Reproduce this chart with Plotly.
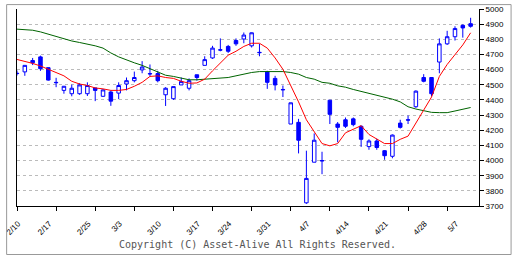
import plotly.graph_objects as go

# Trading days shown (2025)
dates = ["2/10", "2/12", "2/13", "2/14",
         "2/17", "2/18", "2/19", "2/20", "2/21",
         "2/25", "2/26", "2/27", "2/28",
         "3/3", "3/4", "3/5", "3/6", "3/7",
         "3/10", "3/11", "3/12", "3/13", "3/14",
         "3/17", "3/18", "3/19", "3/21",
         "3/24", "3/25", "3/26", "3/27", "3/28",
         "3/31", "4/1", "4/2", "4/3", "4/4",
         "4/7", "4/8", "4/9", "4/10", "4/11",
         "4/14", "4/15", "4/16", "4/17", "4/18",
         "4/21", "4/22", "4/23", "4/24", "4/25",
         "4/28", "4/30", "5/1", "5/2",
         "5/7", "5/8", "5/9"]

open_ = [4576, 4585, 4660, 4684, 4613, 4516, 4463, 4441, 4441, 4441,
         4479, 4424, 4452, 4445, 4505, 4527, 4598, 4574, 4574, 4434,
         4408, 4499, 4477, 4566, 4628, 4677, 4731, 4753, 4792, 4802,
         4757, 4714, 4585, 4542, 4469, 4241, 4252, 3721, 3989, 4000,
         4398, 4241, 4269, 4275, 4226, 4092, 4129, 4065, 4028, 4247,
         4269, 4355, 4548, 4548, 4650, 4770, 4817, 4892, 4903]
high = [4594, 4628, 4677, 4692, 4615, 4546, 4492, 4501, 4510, 4516,
        4480, 4470, 4463, 4516, 4548, 4587, 4656, 4634, 4592, 4484,
        4488, 4548, 4542, 4566, 4688, 4757, 4806, 4763, 4806, 4845,
        4845, 4770, 4592, 4559, 4495, 4381, 4275, 4065, 4179, 4058,
        4398, 4254, 4284, 4284, 4232, 4140, 4144, 4069, 4172, 4269,
        4297, 4463, 4570, 4548, 4806, 4856, 4886, 4899, 4942]
low = [4561, 4559, 4630, 4592, 4527, 4484, 4441, 4424, 4434, 4426,
       4392, 4420, 4361, 4405, 4463, 4516, 4576, 4555, 4516, 4360,
       4400, 4499, 4463, 4527, 4628, 4671, 4721, 4710, 4757, 4774,
       4746, 4688, 4473, 4463, 4419, 4241, 4047, 3714, 3989, 3910,
       4241, 4120, 4215, 4226, 4090, 4071, 4071, 4005, 4015, 4211,
       4241, 4348, 4516, 4424, 4576, 4763, 4792, 4811, 4877]
close = [4574, 4628, 4645, 4606, 4531, 4514, 4490, 4477, 4499, 4495,
         4463, 4466, 4392, 4495, 4527, 4548, 4617, 4572, 4527, 4477,
         4488, 4521, 4527, 4548, 4666, 4742, 4729, 4721, 4770, 4828,
         4843, 4712, 4516, 4499, 4467, 4381, 4134, 3882, 4134, 3998,
         4305, 4219, 4226, 4237, 4140, 4129, 4086, 4032, 4168, 4219,
         4267, 4458, 4523, 4441, 4770, 4817, 4871, 4875, 4886]

# Short moving average (red)
ma_short = [4667, 4656, 4641, 4624, 4602, 4585, 4559, 4523, 4505, 4495,
            4479, 4473, 4463, 4463, 4469, 4490, 4516, 4555, 4559, 4548,
            4542, 4523, 4510, 4512, 4537, 4592, 4645, 4695, 4721, 4753,
            4774, 4774, 4742, 4677, 4602, 4495, 4387, 4269, 4194, 4112,
            4097, 4112, 4183, 4204, 4230, 4172, 4140, 4112, 4112, 4140,
            4161, 4247, 4335, 4419, 4555, 4634, 4699, 4763, 4843]
# Long moving average (green)
ma_long = [4867, 4865, 4860, 4849, 4834, 4817, 4800, 4789, 4779, 4770,
           4757, 4742, 4710, 4684, 4662, 4645, 4628, 4606, 4585, 4563,
           4555, 4542, 4533, 4533, 4537, 4542, 4542, 4548, 4559, 4570,
           4581, 4587, 4587, 4587, 4587, 4581, 4570, 4548, 4537, 4516,
           4510, 4493, 4484, 4469, 4456, 4447, 4434, 4419, 4405, 4387,
           4355, 4340, 4330, 4318, 4316, 4316, 4327, 4340, 4350]

tick_labels = ["2/10", "2/17", "2/25", "3/3", "3/10", "3/17", "3/24",
               "3/31", "4/7", "4/14", "4/21", "4/28", "5/7"]
y_ticks = list(range(3700, 5001, 100))

x = list(range(len(dates)))
tick_pos = [dates.index(t) for t in tick_labels]

fig = go.Figure()
fig.add_trace(go.Scatter(x=x, y=ma_long, mode="lines",
                         line=dict(color="#006400", width=1), showlegend=False))
fig.add_trace(go.Scatter(x=x, y=ma_short, mode="lines",
                         line=dict(color="#FF0000", width=1), showlegend=False))
fig.add_trace(go.Candlestick(
    x=x, open=open_, high=high, low=low, close=close,
    increasing=dict(line=dict(color="#0000FF", width=1), fillcolor="#FFFFFF"),
    decreasing=dict(line=dict(color="#0000FF", width=1), fillcolor="#0000FF"),
    whiskerwidth=0, showlegend=False))

W, H = 512, 256
L, R, T, B = 11, 33, 5, 50
pw, ph = W - L - R, H - T - B

def px_x(p):
    return (p - L) / pw

def px_y(p):
    return (H - B - p) / ph

fig.update_layout(
    width=W, height=H,
    margin=dict(l=L, r=R, t=T, b=B, pad=0),
    paper_bgcolor="white", plot_bgcolor="white",
    boxgap=0.36,
    showlegend=False,
    xaxis=dict(
        range=[0, 59.07], rangeslider=dict(visible=False),
        tickmode="array", tickvals=tick_pos, ticktext=tick_labels,
        tickangle=-45, ticks="", showgrid=False, zeroline=False,
        ticklabeloverflow="allow", ticklabelstandoff=9, ticklabelshift=1,
        showline=True, linecolor="black", linewidth=1,
        tickfont=dict(family="Liberation Sans", size=8, color="black"),
        minor=dict(tickmode="linear", tick0=0, dtick=5, ticks="outside",
                   ticklen=4, tickcolor="black", tickwidth=1, showgrid=False),
    ),
    yaxis=dict(
        range=[3700, 5000], side="right",
        tickmode="array", tickvals=y_ticks, ticktext=[str(v) for v in y_ticks],
        ticks="outside", ticklen=4, tickcolor="black",
        showline=True, linecolor="black", linewidth=1, mirror=True,
        showgrid=True, gridcolor="#BBBBBB", griddash="3px,3px", gridwidth=1,
        zeroline=False, ticklabeloverflow="allow",
        tickfont=dict(family="Liberation Sans", size=8, color="black"),
    ),
    shapes=[dict(type="rect", xref="paper", yref="paper",
                 x0=px_x(0.5), x1=px_x(W - 0.5), y0=px_y(H - 0.5), y1=px_y(0.5),
                 line=dict(color="#999999", width=1), layer="above")],
    annotations=[dict(text="Copyright (C) Asset-Alive All Rights Reserved.",
                      xref="paper", yref="paper", x=px_x(255), y=px_y(245),
                      xanchor="center", yanchor="middle", showarrow=False,
                      font=dict(family="DejaVu Sans Mono", size=10, color="#555555"))],
)

fig.write_html(
    "out.html",
    config={"displayModeBar": False, "staticPlot": True},
    post_script="document.body.style.margin='0';document.body.style.padding='0';"
                "document.body.style.overflow='hidden';",
)
